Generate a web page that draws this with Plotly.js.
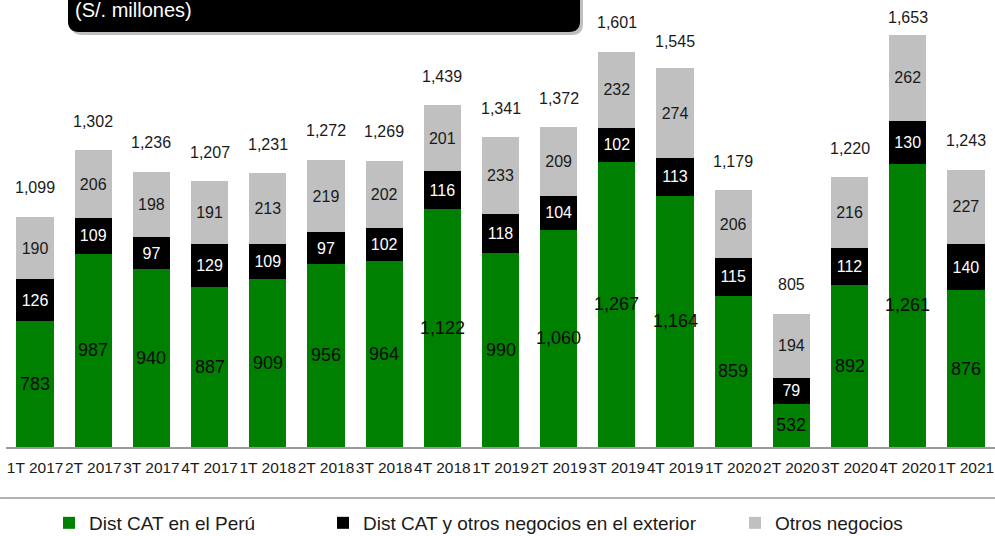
<!DOCTYPE html>
<html>
<head>
<meta charset="utf-8">
<script src="https://cdn.plot.ly/plotly-3.0.1.min.js"></script>
<style>
  html, body { margin: 0; padding: 0; background: #ffffff; }
  #chart { width: 995px; height: 536px; }
</style>
</head>
<body>
<div id="chart"></div>
<script>
const categories = ["1T 2017","2T 2017","3T 2017","4T 2017","1T 2018","2T 2018","3T 2018","4T 2018",
                    "1T 2019","2T 2019","3T 2019","4T 2019","1T 2020","2T 2020","3T 2020","4T 2020","1T 2021"];
const peru     = [783, 987, 940, 887, 909, 956, 964, 1122, 990, 1060, 1267, 1164, 859, 532, 892, 1261, 876];
const exterior = [126, 109, 97, 129, 109, 97, 102, 116, 118, 104, 102, 113, 115, 79, 112, 130, 140];
const otros    = [190, 206, 198, 191, 213, 219, 202, 201, 233, 209, 232, 274, 206, 194, 216, 262, 227];
const totals   = [1099, 1302, 1236, 1207, 1231, 1272, 1269, 1439, 1341, 1372, 1601, 1545, 1179, 805, 1220, 1653, 1243];
const seriesNames = ["Dist CAT en el Perú", "Dist CAT y otros negocios en el exterior", "Otros negocios"];
const unitsLabel = "(S/. millones)";

const FONT = "Liberation Sans, Arial, sans-serif";
const Y_MIN = 400, Y_MAX = 1758;
const PLOT_H = 447;
const UNITS_PER_PX = (Y_MAX - Y_MIN) / PLOT_H;
const fmt = v => v.toLocaleString("en-US");

const traces = [
  { type: "bar", name: seriesNames[0], x: categories, y: peru,
    marker: { color: "#008000" }, legend: "legend", hoverinfo: "skip" },
  { type: "bar", name: seriesNames[1], x: categories, y: exterior,
    marker: { color: "#000000" }, legend: "legend2",
    text: exterior.map(fmt), textposition: "inside", insidetextanchor: "middle",
    textfont: { family: FONT, size: 16, color: "#ffffff" }, hoverinfo: "skip" },
  { type: "bar", name: seriesNames[2], x: categories, y: otros,
    marker: { color: "#c0c0c0" }, legend: "legend3",
    text: otros.map(fmt), textposition: "inside", insidetextanchor: "middle",
    textfont: { family: FONT, size: 16, color: "#1a1a1a" }, hoverinfo: "skip" }
];

const annotations = [];
categories.forEach((c, i) => {
  annotations.push({ x: c, y: (Y_MIN + peru[i]) / 2, xref: "x", yref: "y", text: fmt(peru[i]),
    showarrow: false, font: { family: FONT, size: 18, color: "#0a0a0a" } });
  const labelY = Math.min(totals[i] + 29 * UNITS_PER_PX, Y_MAX - 17 * UNITS_PER_PX);
  annotations.push({ x: c, y: labelY, xref: "x", yref: "y", text: fmt(totals[i]),
    showarrow: false, yanchor: "middle", font: { family: FONT, size: 16, color: "#1a1a1a" } });
});
annotations.push({ x: 0.0680, y: 0.9776, xref: "paper", yref: "paper", xanchor: "left", yanchor: "middle",
  text: unitsLabel, showarrow: false, font: { family: FONT, size: 20, color: "#ffffff" } });

function boxPath(dx, dy) {
  const x0 = (68 - 6 + dx) / 989, x1 = (580 - 6 + dx) / 989;
  const yb = (447 - 32 - dy) / 447, yt = 1.05;
  const rx = 11 / 989, ry = 11 / 447;
  return `M${x0},${yt} L${x0},${yb + ry} Q${x0},${yb} ${x0 + rx},${yb} L${x1 - rx},${yb} Q${x1},${yb} ${x1},${yb + ry} L${x1},${yt} Z`;
}

const legendBase = { orientation: "h", xref: "container", yref: "container", y: 0.0243,
  xanchor: "left", yanchor: "middle", font: { family: FONT, size: 19, color: "#1a1a1a" }, bgcolor: "rgba(0,0,0,0)" };

const layout = {
  width: 995, height: 536,
  margin: { l: 6, r: 0, t: 0, b: 89 },
  paper_bgcolor: "#ffffff", plot_bgcolor: "#ffffff",
  barmode: "stack", bargap: 0.36,
  font: { family: FONT, color: "#1a1a1a" },
  xaxis: { type: "category", showline: true, linecolor: "#999999", linewidth: 1.5, ticks: "",
           tickangle: 0, ticklabelstandoff: 6,
           tickfont: { family: FONT, size: 15.5, color: "#1a1a1a" }, showgrid: false, zeroline: false, fixedrange: true },
  yaxis: { range: [Y_MIN, Y_MAX], visible: false, showgrid: false, zeroline: false, fixedrange: true },
  showlegend: true,
  legend:  Object.assign({}, legendBase, { x: 49 / 995 }),
  legend2: Object.assign({}, legendBase, { x: 323 / 995 }),
  legend3: Object.assign({}, legendBase, { x: 735 / 995 }),
  shapes: [
    { type: "path", xref: "paper", yref: "paper", path: boxPath(3, 3), fillcolor: "rgba(0,0,0,0.25)", line: { width: 0 } },
    { type: "path", xref: "paper", yref: "paper", path: boxPath(0, 0), fillcolor: "#000000", line: { width: 0 } },
    { type: "line", xref: "paper", yref: "paper", x0: -0.006, x1: 1.0, y0: -0.114, y1: -0.114, line: { color: "#999999", width: 1.5 } }
  ],
  annotations: annotations
};

Plotly.newPlot("chart", traces, layout, { displayModeBar: false, staticPlot: true });
</script>
</body>
</html>
